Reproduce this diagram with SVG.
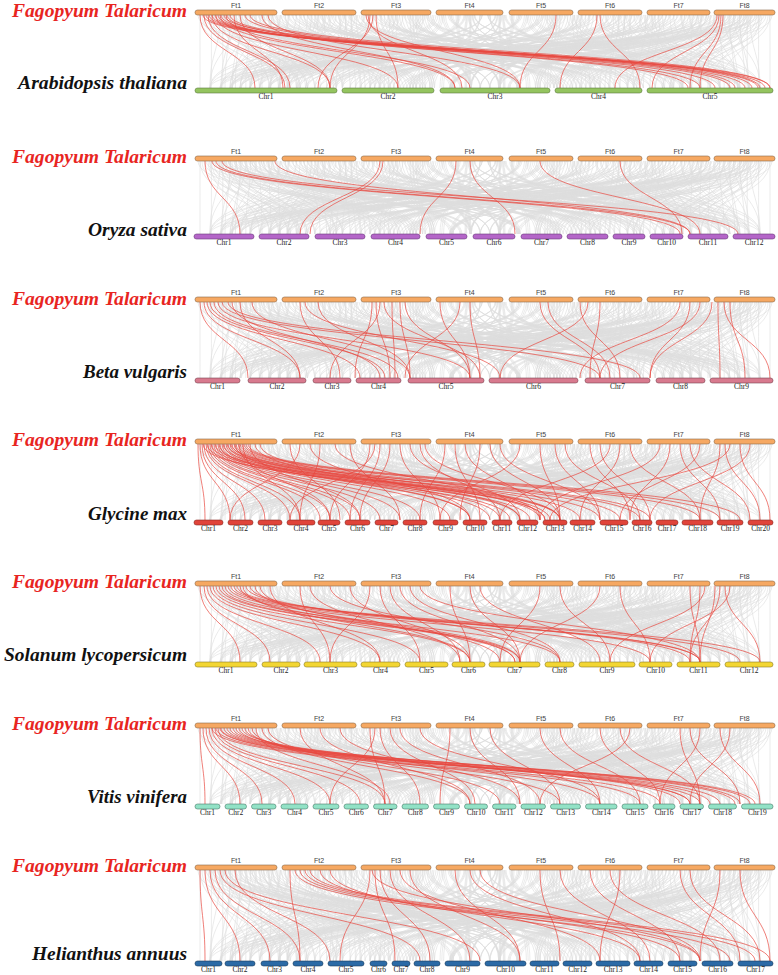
<svg xmlns="http://www.w3.org/2000/svg" xmlns:xlink="http://www.w3.org/1999/xlink" width="778" height="975" viewBox="0 0 778 975">
<style>
.g{fill:none;stroke:#dedede;stroke-width:.6;vector-effect:non-scaling-stroke}
.r{fill:none;stroke:#e8473f;stroke-width:.7;vector-effect:non-scaling-stroke}
rect{stroke-width:.6;rx:2.5;ry:2.5}
.ft{fill:#f6a862;stroke:#8a6a4a}
.ar{fill:#94c45f;stroke:#5d7a40}
.or{fill:#b466c8;stroke:#6a3a7a}
.be{fill:#d87a8e;stroke:#7a4450}
.gl{fill:#e0443a;stroke:#8a2a22}
.so{fill:#f3d633;stroke:#8a7a2a}
.vi{fill:#92e2c6;stroke:#4a7a6a}
.he{fill:#2b6aa6;stroke:#1a3a5a}
.fl{font-family:"Liberation Sans",Arial,sans-serif;font-size:7px;fill:#444;text-anchor:middle}
.cl{font-family:"Liberation Serif","Times New Roman",serif;font-size:7.5px;fill:#222;text-anchor:middle}
.sp{font-family:"Liberation Serif","Times New Roman",serif;font-size:18px;font-style:italic;font-weight:bold;fill:#111}
.fg{fill:#e8251f}
</style>
<defs>
<path id="grey" class="g" d="M198 0C198 50 420 50 420 100M202 0C202 50 300 50 300 100M206 0C206 50 610 50 610 100M210 0C210 50 250 50 250 100M214 0C214 50 700 50 700 100M218 0C218 50 520 50 520 100M224 0C224 50 380 50 380 100M230 0C230 50 760 50 760 100M236 0C236 50 210 50 210 100M242 0C242 50 470 50 470 100M250 0C250 50 330 50 330 100M258 0C258 50 640 50 640 100M266 0C266 50 560 50 560 100M272 0C272 50 230 50 230 100M285 0C285 50 450 50 450 100M292 0C292 50 720 50 720 100M300 0C300 50 280 50 280 100M308 0C308 50 600 50 600 100M315 0C315 50 390 50 390 100M322 0C322 50 520 50 520 100M330 0C330 50 210 50 210 100M338 0C338 50 680 50 680 100M345 0C345 50 360 50 360 100M352 0C352 50 480 50 480 100M365 0C365 50 250 50 250 100M372 0C372 50 740 50 740 100M380 0C380 50 430 50 430 100M388 0C388 50 560 50 560 100M396 0C396 50 300 50 300 100M404 0C404 50 650 50 650 100M412 0C412 50 500 50 500 100M420 0C420 50 220 50 220 100M428 0C428 50 600 50 600 100M440 0C440 50 350 50 350 100M448 0C448 50 700 50 700 100M456 0C456 50 470 50 470 100M464 0C464 50 280 50 280 100M472 0C472 50 580 50 580 100M480 0C480 50 410 50 410 100M488 0C488 50 760 50 760 100M496 0C496 50 240 50 240 100M504 0C504 50 530 50 530 100M512 0C512 50 640 50 640 100M520 0C520 50 330 50 330 100M528 0C528 50 450 50 450 100M536 0C536 50 720 50 720 100M544 0C544 50 260 50 260 100M552 0C552 50 600 50 600 100M560 0C560 50 390 50 390 100M568 0C568 50 500 50 500 100M582 0C582 50 680 50 680 100M590 0C590 50 300 50 300 100M598 0C598 50 540 50 540 100M606 0C606 50 760 50 760 100M614 0C614 50 420 50 420 100M622 0C622 50 220 50 220 100M630 0C630 50 620 50 620 100M638 0C638 50 480 50 480 100M650 0C650 50 350 50 350 100M658 0C658 50 700 50 700 100M666 0C666 50 560 50 560 100M674 0C674 50 270 50 270 100M682 0C682 50 450 50 450 100M690 0C690 50 740 50 740 100M698 0C698 50 380 50 380 100M706 0C706 50 600 50 600 100M718 0C718 50 510 50 510 100M726 0C726 50 230 50 230 100M734 0C734 50 670 50 670 100M742 0C742 50 400 50 400 100M750 0C750 50 760 50 760 100M758 0C758 50 320 50 320 100M766 0C766 50 560 50 560 100M770 0C770 50 700 50 700 100M200 0C200 50 200 50 200 100M260 0C260 50 262 50 262 100M340 0C340 50 330 50 330 100M410 0C410 50 420 50 420 100M500 0C500 50 505 50 505 100M580 0C580 50 590 50 590 100M660 0C660 50 650 50 650 100M740 0C740 50 745 50 745 100M226 0C226 50 290 50 290 100M254 0C254 50 400 50 400 100M318 0C318 50 240 50 240 100M392 0C392 50 470 50 470 100M468 0C468 50 540 50 540 100M548 0C548 50 470 50 470 100M626 0C626 50 700 50 700 100M702 0C702 50 640 50 640 100M762 0C762 50 690 50 690 100"/>
<g id="greyAll">
<use xlink:href="#grey"/>
<use xlink:href="#grey" transform="translate(970,0) scale(-1,1)"/>
<use xlink:href="#grey" transform="translate(38.8,0) scale(0.92,1)"/>
<use xlink:href="#grey" transform="translate(950.6,0) scale(-0.96,1)"/>
<use xlink:href="#grey" transform="translate(19.4,0) scale(0.96,1)"/>
<use xlink:href="#grey" transform="translate(931.2,0) scale(-0.92,1)"/>
</g>
</defs>

<g id="connectors">
<g transform="translate(0,15) scale(1,0.73)">
<use xlink:href="#greyAll"/>
<path class="r" d="M203 0C203 50 765 50 765 100M206 0C206 50 758 50 758 100M209 0C209 50 770 50 770 100M212 0C212 50 745 50 745 100M215 0C215 50 730 50 730 100M218 0C218 50 700 50 700 100M221 0C221 50 688 50 688 100M224 0C224 50 760 50 760 100M227 0C227 50 715 50 715 100M230 0C230 50 752 50 752 100M200 0C200 50 255 50 255 100M204 0C204 50 285 50 285 100M208 0C208 50 290 50 290 100M212 0C212 50 330 50 330 100M216 0C216 50 398 50 398 100M220 0C220 50 455 50 455 100M226 0C226 50 470 50 470 100M234 0C234 50 283 50 283 100M240 0C240 50 330 50 330 100M262 0C262 50 455 50 455 100M268 0C268 50 520 50 520 100M370 0C370 50 330 50 330 100M373 0C373 50 318 50 318 100M376 0C376 50 398 50 398 100M368 0C368 50 462 50 462 100M366 0C366 50 520 50 520 100M556 0C556 50 520 50 520 100M597 0C597 50 560 50 560 100M600 0C600 50 640 50 640 100M719 0C719 50 652 50 652 100M721 0C721 50 690 50 690 100M717 0C717 50 615 50 615 100M723 0C723 50 700 50 700 100M245 0C245 50 735 50 735 100M250 0C250 50 770 50 770 100"/>
</g>
<g transform="translate(0,161) scale(1,0.73)">
<use xlink:href="#greyAll"/>
<path class="r" d="M205 0C205 50 240 50 240 100M212 0C212 50 680 50 680 100M216 0C216 50 690 50 690 100M222 0C222 50 738 50 738 100M380 0C380 50 300 50 300 100M383 0C383 50 310 50 310 100M456 0C456 50 420 50 420 100M470 0C470 50 515 50 515 100M540 0C540 50 700 50 700 100M620 0C620 50 682 50 682 100M275 0C275 50 690 50 690 100"/>
</g>
<g transform="translate(0,302) scale(1,0.76)">
<use xlink:href="#greyAll"/>
<path class="r" d="M200 0C200 50 248 50 248 100M204 0C204 50 300 50 300 100M207 0C207 50 360 50 360 100M210 0C210 50 385 50 385 100M214 0C214 50 398 50 398 100M218 0C218 50 470 50 470 100M222 0C222 50 600 50 600 100M228 0C228 50 640 50 640 100M232 0C232 50 380 50 380 100M240 0C240 50 300 50 300 100M252 0C252 50 410 50 410 100M300 0C300 50 340 50 340 100M305 0C305 50 500 50 500 100M372 0C372 50 355 50 355 100M376 0C376 50 390 50 390 100M380 0C380 50 330 50 330 100M384 0C384 50 480 50 480 100M392 0C392 50 395 50 395 100M400 0C400 50 410 50 410 100M405 0C405 50 470 50 470 100M440 0C440 50 470 50 470 100M460 0C460 50 405 50 405 100M470 0C470 50 480 50 480 100M540 0C540 50 600 50 600 100M548 0C548 50 610 50 610 100M580 0C580 50 620 50 620 100M588 0C588 50 500 50 500 100M600 0C600 50 590 50 590 100M680 0C680 50 580 50 580 100M690 0C690 50 650 50 650 100M700 0C700 50 600 50 600 100M718 0C718 50 720 50 720 100M724 0C724 50 770 50 770 100M712 0C712 50 650 50 650 100M730 0C730 50 745 50 745 100M318 0C318 50 410 50 410 100"/>
</g>
<g transform="translate(0,444) scale(1,0.76)">
<use xlink:href="#greyAll"/>
<path class="r" d="M198 0C198 50 205 50 205 100M200 0C200 50 230 50 230 100M202 0C202 50 245 50 245 100M204 0C204 50 265 50 265 100M206 0C206 50 290 50 290 100M208 0C208 50 300 50 300 100M210 0C210 50 320 50 320 100M212 0C212 50 330 50 330 100M214 0C214 50 350 50 350 100M216 0C216 50 360 50 360 100M218 0C218 50 380 50 380 100M220 0C220 50 400 50 400 100M222 0C222 50 420 50 420 100M224 0C224 50 450 50 450 100M226 0C226 50 470 50 470 100M228 0C228 50 500 50 500 100M230 0C230 50 520 50 520 100M232 0C232 50 540 50 540 100M234 0C234 50 550 50 550 100M236 0C236 50 560 50 560 100M238 0C238 50 580 50 580 100M240 0C240 50 620 50 620 100M242 0C242 50 650 50 650 100M244 0C244 50 700 50 700 100M246 0C246 50 720 50 720 100M248 0C248 50 740 50 740 100M203 0C203 50 530 50 530 100M207 0C207 50 510 50 510 100M211 0C211 50 545 50 545 100M215 0C215 50 560 50 560 100M219 0C219 50 490 50 490 100M223 0C223 50 545 50 545 100M227 0C227 50 600 50 600 100M231 0C231 50 640 50 640 100M235 0C235 50 470 50 470 100M239 0C239 50 330 50 330 100M243 0C243 50 300 50 300 100M250 0C250 50 360 50 360 100M255 0C255 50 520 50 520 100M260 0C260 50 560 50 560 100M290 0C290 50 340 50 340 100M300 0C300 50 230 50 230 100M310 0C310 50 470 50 470 100M320 0C320 50 300 50 300 100M335 0C335 50 540 50 540 100M350 0C350 50 400 50 400 100M370 0C370 50 330 50 330 100M375 0C375 50 290 50 290 100M380 0C380 50 350 50 350 100M390 0C390 50 360 50 360 100M400 0C400 50 440 50 440 100M410 0C410 50 520 50 520 100M420 0C420 50 500 50 500 100M425 0C425 50 560 50 560 100M445 0C445 50 420 50 420 100M455 0C455 50 480 50 480 100M465 0C465 50 540 50 540 100M480 0C480 50 460 50 460 100M490 0C490 50 560 50 560 100M500 0C500 50 600 50 600 100M520 0C520 50 440 50 440 100M540 0C540 50 560 50 560 100M555 0C555 50 600 50 600 100M565 0C565 50 640 50 640 100M590 0C590 50 630 50 630 100M600 0C600 50 650 50 650 100M610 0C610 50 500 50 500 100M620 0C620 50 580 50 580 100M630 0C630 50 700 50 700 100M660 0C660 50 540 50 540 100M670 0C670 50 630 50 630 100M680 0C680 50 720 50 720 100M690 0C690 50 750 50 750 100M700 0C700 50 620 50 620 100M720 0C720 50 700 50 700 100M725 0C725 50 760 50 760 100M740 0C740 50 770 50 770 100M750 0C750 50 650 50 650 100M730 0C730 50 550 50 550 100"/>
</g>
<g transform="translate(0,586) scale(1,0.76)">
<use xlink:href="#greyAll"/>
<path class="r" d="M200 0C200 50 240 50 240 100M204 0C204 50 270 50 270 100M207 0C207 50 320 50 320 100M210 0C210 50 380 50 380 100M213 0C213 50 420 50 420 100M216 0C216 50 470 50 470 100M219 0C219 50 515 50 515 100M222 0C222 50 520 50 520 100M225 0C225 50 560 50 560 100M228 0C228 50 650 50 650 100M231 0C231 50 700 50 700 100M234 0C234 50 740 50 740 100M237 0C237 50 760 50 760 100M240 0C240 50 515 50 515 100M243 0C243 50 470 50 470 100M246 0C246 50 700 50 700 100M250 0C250 50 690 50 690 100M255 0C255 50 520 50 520 100M260 0C260 50 500 50 500 100M270 0C270 50 380 50 380 100M300 0C300 50 330 50 330 100M310 0C310 50 460 50 460 100M330 0C330 50 560 50 560 100M350 0C350 50 470 50 470 100M370 0C370 50 330 50 330 100M380 0C380 50 420 50 420 100M390 0C390 50 460 50 460 100M400 0C400 50 520 50 520 100M410 0C410 50 560 50 560 100M420 0C420 50 700 50 700 100M450 0C450 50 470 50 470 100M470 0C470 50 520 50 520 100M480 0C480 50 600 50 600 100M540 0C540 50 500 50 500 100M560 0C560 50 610 50 610 100M600 0C600 50 520 50 520 100M620 0C620 50 650 50 650 100M690 0C690 50 700 50 700 100M700 0C700 50 690 50 690 100M705 0C705 50 610 50 610 100M715 0C715 50 700 50 700 100M720 0C720 50 690 50 690 100M725 0C725 50 760 50 760 100M730 0C730 50 650 50 650 100"/>
</g>
<g transform="translate(0,728) scale(1,0.76)">
<use xlink:href="#greyAll"/>
<path class="r" d="M200 0C200 50 205 50 205 100M203 0C203 50 240 50 240 100M206 0C206 50 262 50 262 100M209 0C209 50 295 50 295 100M212 0C212 50 330 50 330 100M215 0C215 50 360 50 360 100M218 0C218 50 385 50 385 100M221 0C221 50 700 50 700 100M224 0C224 50 710 50 710 100M227 0C227 50 720 50 720 100M230 0C230 50 735 50 735 100M233 0C233 50 750 50 750 100M236 0C236 50 755 50 755 100M239 0C239 50 690 50 690 100M242 0C242 50 740 50 740 100M245 0C245 50 680 50 680 100M248 0C248 50 600 50 600 100M252 0C252 50 560 50 560 100M256 0C256 50 390 50 390 100M262 0C262 50 470 50 470 100M268 0C268 50 500 50 500 100M212 0C212 50 640 50 640 100M216 0C216 50 660 50 660 100M220 0C220 50 690 50 690 100M300 0C300 50 385 50 385 100M320 0C320 50 470 50 470 100M340 0C340 50 520 50 520 100M370 0C370 50 385 50 385 100M375 0C375 50 330 50 330 100M380 0C380 50 420 50 420 100M390 0C390 50 475 50 475 100M400 0C400 50 540 50 540 100M420 0C420 50 600 50 600 100M450 0C450 50 440 50 440 100M470 0C470 50 520 50 520 100M490 0C490 50 560 50 560 100M540 0C540 50 600 50 600 100M560 0C560 50 640 50 640 100M600 0C600 50 660 50 660 100M620 0C620 50 700 50 700 100M630 0C630 50 540 50 540 100M680 0C680 50 700 50 700 100M690 0C690 50 740 50 740 100M700 0C700 50 660 50 660 100M720 0C720 50 760 50 760 100M730 0C730 50 690 50 690 100"/>
</g>
<g transform="translate(0,870) scale(1,0.91)">
<use xlink:href="#greyAll"/>
<path class="r" d="M200 0C200 50 205 50 205 100M205 0C205 50 240 50 240 100M210 0C210 50 270 50 270 100M215 0C215 50 300 50 300 100M220 0C220 50 420 50 420 100M225 0C225 50 480 50 480 100M235 0C235 50 330 50 330 100M295 0C295 50 700 50 700 100M300 0C300 50 730 50 730 100M305 0C305 50 755 50 755 100M310 0C310 50 770 50 770 100M320 0C320 50 680 50 680 100M330 0C330 50 640 50 640 100M290 0C290 50 300 50 300 100M370 0C370 50 340 50 340 100M375 0C375 50 395 50 395 100M380 0C380 50 430 50 430 100M390 0C390 50 470 50 470 100M400 0C400 50 600 50 600 100M410 0C410 50 520 50 520 100M372 0C372 50 700 50 700 100M455 0C455 50 520 50 520 100M470 0C470 50 640 50 640 100M480 0C480 50 700 50 700 100M540 0C540 50 560 50 560 100M560 0C560 50 650 50 650 100M590 0C590 50 680 50 680 100M610 0C610 50 720 50 720 100M620 0C620 50 600 50 600 100M680 0C680 50 740 50 740 100M690 0C690 50 760 50 760 100M720 0C720 50 700 50 700 100M740 0C740 50 770 50 770 100"/>
</g>
</g>

<g id="labels">
<text class="sp fg" x="12" y="17" textLength="175" lengthAdjust="spacingAndGlyphs">Fagopyum Talaricum</text>
<text class="sp" x="18" y="89" textLength="169" lengthAdjust="spacingAndGlyphs">Arabidopsis thaliana</text>
<text class="sp fg" x="12" y="163" textLength="175" lengthAdjust="spacingAndGlyphs">Fagopyum Talaricum</text>
<text class="sp" x="88" y="236" textLength="99" lengthAdjust="spacingAndGlyphs">Oryza sativa</text>
<text class="sp fg" x="12" y="305" textLength="175" lengthAdjust="spacingAndGlyphs">Fagopyum Talaricum</text>
<text class="sp" x="83" y="378" textLength="104" lengthAdjust="spacingAndGlyphs">Beta vulgaris</text>
<text class="sp fg" x="12" y="446" textLength="175" lengthAdjust="spacingAndGlyphs">Fagopyum Talaricum</text>
<text class="sp" x="88" y="520" textLength="99" lengthAdjust="spacingAndGlyphs">Glycine max</text>
<text class="sp fg" x="12" y="588" textLength="175" lengthAdjust="spacingAndGlyphs">Fagopyum Talaricum</text>
<text class="sp" x="4" y="661" textLength="183" lengthAdjust="spacingAndGlyphs">Solanum lycopersicum</text>
<text class="sp fg" x="12" y="730" textLength="175" lengthAdjust="spacingAndGlyphs">Fagopyum Talaricum</text>
<text class="sp" x="87" y="803" textLength="100" lengthAdjust="spacingAndGlyphs">Vitis vinifera</text>
<text class="sp fg" x="12" y="872" textLength="175" lengthAdjust="spacingAndGlyphs">Fagopyum Talaricum</text>
<text class="sp" x="32" y="960" textLength="155" lengthAdjust="spacingAndGlyphs">Helianthus annuus</text>
</g>

<g id="p1-Ft1"><rect class="ft" x="195" y="10" width="82" height="5"/><text class="fl" x="236" y="8">Ft1</text></g>
<g id="p1-Ft2"><rect class="ft" x="282" y="10" width="74" height="5"/><text class="fl" x="319" y="8">Ft2</text></g>
<g id="p1-Ft3"><rect class="ft" x="361" y="10" width="70" height="5"/><text class="fl" x="396" y="8">Ft3</text></g>
<g id="p1-Ft4"><rect class="ft" x="436" y="10" width="67" height="5"/><text class="fl" x="469.5" y="8">Ft4</text></g>
<g id="p1-Ft5"><rect class="ft" x="509" y="10" width="64" height="5"/><text class="fl" x="541" y="8">Ft5</text></g>
<g id="p1-Ft6"><rect class="ft" x="578" y="10" width="64" height="5"/><text class="fl" x="610" y="8">Ft6</text></g>
<g id="p1-Ft7"><rect class="ft" x="647" y="10" width="63" height="5"/><text class="fl" x="678.5" y="8">Ft7</text></g>
<g id="p1-Ft8"><rect class="ft" x="714" y="10" width="61" height="5"/><text class="fl" x="744.5" y="8">Ft8</text></g>
<g id="at-Chr1"><rect class="ar" x="195" y="88" width="142" height="5"/><text class="cl" x="266" y="99">Chr1</text></g>
<g id="at-Chr2"><rect class="ar" x="342" y="88" width="92" height="5"/><text class="cl" x="388" y="99">Chr2</text></g>
<g id="at-Chr3"><rect class="ar" x="440" y="88" width="110" height="5"/><text class="cl" x="495" y="99">Chr3</text></g>
<g id="at-Chr4"><rect class="ar" x="555" y="88" width="87" height="5"/><text class="cl" x="598.5" y="99">Chr4</text></g>
<g id="at-Chr5"><rect class="ar" x="647" y="88" width="126" height="5"/><text class="cl" x="710" y="99">Chr5</text></g>

<g id="p2-Ft1"><rect class="ft" x="195" y="156" width="82" height="5"/><text class="fl" x="236" y="154">Ft1</text></g>
<g id="p2-Ft2"><rect class="ft" x="282" y="156" width="74" height="5"/><text class="fl" x="319" y="154">Ft2</text></g>
<g id="p2-Ft3"><rect class="ft" x="361" y="156" width="70" height="5"/><text class="fl" x="396" y="154">Ft3</text></g>
<g id="p2-Ft4"><rect class="ft" x="436" y="156" width="67" height="5"/><text class="fl" x="469.5" y="154">Ft4</text></g>
<g id="p2-Ft5"><rect class="ft" x="509" y="156" width="64" height="5"/><text class="fl" x="541" y="154">Ft5</text></g>
<g id="p2-Ft6"><rect class="ft" x="578" y="156" width="64" height="5"/><text class="fl" x="610" y="154">Ft6</text></g>
<g id="p2-Ft7"><rect class="ft" x="647" y="156" width="63" height="5"/><text class="fl" x="678.5" y="154">Ft7</text></g>
<g id="p2-Ft8"><rect class="ft" x="714" y="156" width="61" height="5"/><text class="fl" x="744.5" y="154">Ft8</text></g>
<g id="os-Chr1"><rect class="or" x="194" y="234" width="60" height="5"/><text class="cl" x="224" y="245">Chr1</text></g>
<g id="os-Chr2"><rect class="or" x="259" y="234" width="50" height="5"/><text class="cl" x="284" y="245">Chr2</text></g>
<g id="os-Chr3"><rect class="or" x="315" y="234" width="50" height="5"/><text class="cl" x="340" y="245">Chr3</text></g>
<g id="os-Chr4"><rect class="or" x="371" y="234" width="49" height="5"/><text class="cl" x="395.5" y="245">Chr4</text></g>
<g id="os-Chr5"><rect class="or" x="426" y="234" width="41" height="5"/><text class="cl" x="446.5" y="245">Chr5</text></g>
<g id="os-Chr6"><rect class="or" x="473" y="234" width="42" height="5"/><text class="cl" x="494" y="245">Chr6</text></g>
<g id="os-Chr7"><rect class="or" x="521" y="234" width="41" height="5"/><text class="cl" x="541.5" y="245">Chr7</text></g>
<g id="os-Chr8"><rect class="or" x="567" y="234" width="41" height="5"/><text class="cl" x="587.5" y="245">Chr8</text></g>
<g id="os-Chr9"><rect class="or" x="613" y="234" width="32" height="5"/><text class="cl" x="629" y="245">Chr9</text></g>
<g id="os-Chr10"><rect class="or" x="650" y="234" width="33" height="5"/><text class="cl" x="666.5" y="245">Chr10</text></g>
<g id="os-Chr11"><rect class="or" x="688" y="234" width="40" height="5"/><text class="cl" x="708" y="245">Chr11</text></g>
<g id="os-Chr12"><rect class="or" x="733" y="234" width="42" height="5"/><text class="cl" x="754" y="245">Chr12</text></g>

<g id="p3-Ft1"><rect class="ft" x="195" y="297" width="82" height="5"/><text class="fl" x="236" y="295">Ft1</text></g>
<g id="p3-Ft2"><rect class="ft" x="282" y="297" width="74" height="5"/><text class="fl" x="319" y="295">Ft2</text></g>
<g id="p3-Ft3"><rect class="ft" x="361" y="297" width="70" height="5"/><text class="fl" x="396" y="295">Ft3</text></g>
<g id="p3-Ft4"><rect class="ft" x="436" y="297" width="67" height="5"/><text class="fl" x="469.5" y="295">Ft4</text></g>
<g id="p3-Ft5"><rect class="ft" x="509" y="297" width="64" height="5"/><text class="fl" x="541" y="295">Ft5</text></g>
<g id="p3-Ft6"><rect class="ft" x="578" y="297" width="64" height="5"/><text class="fl" x="610" y="295">Ft6</text></g>
<g id="p3-Ft7"><rect class="ft" x="647" y="297" width="63" height="5"/><text class="fl" x="678.5" y="295">Ft7</text></g>
<g id="p3-Ft8"><rect class="ft" x="714" y="297" width="61" height="5"/><text class="fl" x="744.5" y="295">Ft8</text></g>
<g id="bv-Chr1"><rect class="be" x="195" y="378" width="45" height="5"/><text class="cl" x="217.5" y="389">Chr1</text></g>
<g id="bv-Chr2"><rect class="be" x="248" y="378" width="58" height="5"/><text class="cl" x="277" y="389">Chr2</text></g>
<g id="bv-Chr3"><rect class="be" x="313" y="378" width="38" height="5"/><text class="cl" x="332" y="389">Chr3</text></g>
<g id="bv-Chr4"><rect class="be" x="356" y="378" width="45" height="5"/><text class="cl" x="378.5" y="389">Chr4</text></g>
<g id="bv-Chr5"><rect class="be" x="408" y="378" width="76" height="5"/><text class="cl" x="446" y="389">Chr5</text></g>
<g id="bv-Chr6"><rect class="be" x="489" y="378" width="89" height="5"/><text class="cl" x="533.5" y="389">Chr6</text></g>
<g id="bv-Chr7"><rect class="be" x="585" y="378" width="65" height="5"/><text class="cl" x="617.5" y="389">Chr7</text></g>
<g id="bv-Chr8"><rect class="be" x="656" y="378" width="49" height="5"/><text class="cl" x="680.5" y="389">Chr8</text></g>
<g id="bv-Chr9"><rect class="be" x="710" y="378" width="63" height="5"/><text class="cl" x="741.5" y="389">Chr9</text></g>

<g id="p4-Ft1"><rect class="ft" x="195" y="439" width="82" height="5"/><text class="fl" x="236" y="437">Ft1</text></g>
<g id="p4-Ft2"><rect class="ft" x="282" y="439" width="74" height="5"/><text class="fl" x="319" y="437">Ft2</text></g>
<g id="p4-Ft3"><rect class="ft" x="361" y="439" width="70" height="5"/><text class="fl" x="396" y="437">Ft3</text></g>
<g id="p4-Ft4"><rect class="ft" x="436" y="439" width="67" height="5"/><text class="fl" x="469.5" y="437">Ft4</text></g>
<g id="p4-Ft5"><rect class="ft" x="509" y="439" width="64" height="5"/><text class="fl" x="541" y="437">Ft5</text></g>
<g id="p4-Ft6"><rect class="ft" x="578" y="439" width="64" height="5"/><text class="fl" x="610" y="437">Ft6</text></g>
<g id="p4-Ft7"><rect class="ft" x="647" y="439" width="63" height="5"/><text class="fl" x="678.5" y="437">Ft7</text></g>
<g id="p4-Ft8"><rect class="ft" x="714" y="439" width="61" height="5"/><text class="fl" x="744.5" y="437">Ft8</text></g>
<g id="gm-Chr1"><rect class="gl" x="194" y="520" width="29" height="5"/><text class="cl" x="208.5" y="531">Chr1</text></g>
<g id="gm-Chr2"><rect class="gl" x="228" y="520" width="25" height="5"/><text class="cl" x="240.5" y="531">Chr2</text></g>
<g id="gm-Chr3"><rect class="gl" x="258" y="520" width="24" height="5"/><text class="cl" x="270" y="531">Chr3</text></g>
<g id="gm-Chr4"><rect class="gl" x="287" y="520" width="28" height="5"/><text class="cl" x="301" y="531">Chr4</text></g>
<g id="gm-Chr5"><rect class="gl" x="318" y="520" width="22" height="5"/><text class="cl" x="329" y="531">Chr5</text></g>
<g id="gm-Chr6"><rect class="gl" x="345" y="520" width="25" height="5"/><text class="cl" x="357.5" y="531">Chr6</text></g>
<g id="gm-Chr7"><rect class="gl" x="375" y="520" width="23" height="5"/><text class="cl" x="386.5" y="531">Chr7</text></g>
<g id="gm-Chr8"><rect class="gl" x="403" y="520" width="24" height="5"/><text class="cl" x="415" y="531">Chr8</text></g>
<g id="gm-Chr9"><rect class="gl" x="433" y="520" width="25" height="5"/><text class="cl" x="445.5" y="531">Chr9</text></g>
<g id="gm-Chr10"><rect class="gl" x="463" y="520" width="24" height="5"/><text class="cl" x="475" y="531">Chr10</text></g>
<g id="gm-Chr11"><rect class="gl" x="492" y="520" width="20" height="5"/><text class="cl" x="502" y="531">Chr11</text></g>
<g id="gm-Chr12"><rect class="gl" x="517" y="520" width="21" height="5"/><text class="cl" x="527.5" y="531">Chr12</text></g>
<g id="gm-Chr13"><rect class="gl" x="543" y="520" width="24" height="5"/><text class="cl" x="555" y="531">Chr13</text></g>
<g id="gm-Chr14"><rect class="gl" x="570" y="520" width="25" height="5"/><text class="cl" x="582.5" y="531">Chr14</text></g>
<g id="gm-Chr15"><rect class="gl" x="600" y="520" width="28" height="5"/><text class="cl" x="614" y="531">Chr15</text></g>
<g id="gm-Chr16"><rect class="gl" x="632" y="520" width="20" height="5"/><text class="cl" x="642" y="531">Chr16</text></g>
<g id="gm-Chr17"><rect class="gl" x="656" y="520" width="22" height="5"/><text class="cl" x="667" y="531">Chr17</text></g>
<g id="gm-Chr18"><rect class="gl" x="682" y="520" width="31" height="5"/><text class="cl" x="697.5" y="531">Chr18</text></g>
<g id="gm-Chr19"><rect class="gl" x="717" y="520" width="26" height="5"/><text class="cl" x="730" y="531">Chr19</text></g>
<g id="gm-Chr20"><rect class="gl" x="748" y="520" width="25" height="5"/><text class="cl" x="760.5" y="531">Chr20</text></g>

<g id="p5-Ft1"><rect class="ft" x="195" y="581" width="82" height="5"/><text class="fl" x="236" y="579">Ft1</text></g>
<g id="p5-Ft2"><rect class="ft" x="282" y="581" width="74" height="5"/><text class="fl" x="319" y="579">Ft2</text></g>
<g id="p5-Ft3"><rect class="ft" x="361" y="581" width="70" height="5"/><text class="fl" x="396" y="579">Ft3</text></g>
<g id="p5-Ft4"><rect class="ft" x="436" y="581" width="67" height="5"/><text class="fl" x="469.5" y="579">Ft4</text></g>
<g id="p5-Ft5"><rect class="ft" x="509" y="581" width="64" height="5"/><text class="fl" x="541" y="579">Ft5</text></g>
<g id="p5-Ft6"><rect class="ft" x="578" y="581" width="64" height="5"/><text class="fl" x="610" y="579">Ft6</text></g>
<g id="p5-Ft7"><rect class="ft" x="647" y="581" width="63" height="5"/><text class="fl" x="678.5" y="579">Ft7</text></g>
<g id="p5-Ft8"><rect class="ft" x="714" y="581" width="61" height="5"/><text class="fl" x="744.5" y="579">Ft8</text></g>
<g id="sl-Chr1"><rect class="so" x="195" y="662" width="62" height="5"/><text class="cl" x="226" y="673">Chr1</text></g>
<g id="sl-Chr2"><rect class="so" x="262" y="662" width="38" height="5"/><text class="cl" x="281" y="673">Chr2</text></g>
<g id="sl-Chr3"><rect class="so" x="304" y="662" width="53" height="5"/><text class="cl" x="330.5" y="673">Chr3</text></g>
<g id="sl-Chr4"><rect class="so" x="361" y="662" width="39" height="5"/><text class="cl" x="380.5" y="673">Chr4</text></g>
<g id="sl-Chr5"><rect class="so" x="405" y="662" width="43" height="5"/><text class="cl" x="426.5" y="673">Chr5</text></g>
<g id="sl-Chr6"><rect class="so" x="452" y="662" width="33" height="5"/><text class="cl" x="468.5" y="673">Chr6</text></g>
<g id="sl-Chr7"><rect class="so" x="489" y="662" width="51" height="5"/><text class="cl" x="514.5" y="673">Chr7</text></g>
<g id="sl-Chr8"><rect class="so" x="545" y="662" width="29" height="5"/><text class="cl" x="559.5" y="673">Chr8</text></g>
<g id="sl-Chr9"><rect class="so" x="579" y="662" width="56" height="5"/><text class="cl" x="607" y="673">Chr9</text></g>
<g id="sl-Chr10"><rect class="so" x="639" y="662" width="33" height="5"/><text class="cl" x="655.5" y="673">Chr10</text></g>
<g id="sl-Chr11"><rect class="so" x="677" y="662" width="43" height="5"/><text class="cl" x="698.5" y="673">Chr11</text></g>
<g id="sl-Chr12"><rect class="so" x="725" y="662" width="48" height="5"/><text class="cl" x="749" y="673">Chr12</text></g>

<g id="p6-Ft1"><rect class="ft" x="195" y="723" width="82" height="5"/><text class="fl" x="236" y="721">Ft1</text></g>
<g id="p6-Ft2"><rect class="ft" x="282" y="723" width="74" height="5"/><text class="fl" x="319" y="721">Ft2</text></g>
<g id="p6-Ft3"><rect class="ft" x="361" y="723" width="70" height="5"/><text class="fl" x="396" y="721">Ft3</text></g>
<g id="p6-Ft4"><rect class="ft" x="436" y="723" width="67" height="5"/><text class="fl" x="469.5" y="721">Ft4</text></g>
<g id="p6-Ft5"><rect class="ft" x="509" y="723" width="64" height="5"/><text class="fl" x="541" y="721">Ft5</text></g>
<g id="p6-Ft6"><rect class="ft" x="578" y="723" width="64" height="5"/><text class="fl" x="610" y="721">Ft6</text></g>
<g id="p6-Ft7"><rect class="ft" x="647" y="723" width="63" height="5"/><text class="fl" x="678.5" y="721">Ft7</text></g>
<g id="p6-Ft8"><rect class="ft" x="714" y="723" width="61" height="5"/><text class="fl" x="744.5" y="721">Ft8</text></g>
<g id="vv-Chr1"><rect class="vi" x="195" y="804" width="25" height="5"/><text class="cl" x="207.5" y="815">Chr1</text></g>
<g id="vv-Chr2"><rect class="vi" x="225" y="804" width="21.5" height="5"/><text class="cl" x="235.8" y="815">Chr2</text></g>
<g id="vv-Chr3"><rect class="vi" x="251.5" y="804" width="24.5" height="5"/><text class="cl" x="263.8" y="815">Chr3</text></g>
<g id="vv-Chr4"><rect class="vi" x="281" y="804" width="27" height="5"/><text class="cl" x="294.5" y="815">Chr4</text></g>
<g id="vv-Chr5"><rect class="vi" x="313" y="804" width="26" height="5"/><text class="cl" x="326" y="815">Chr5</text></g>
<g id="vv-Chr6"><rect class="vi" x="344" y="804" width="24.5" height="5"/><text class="cl" x="356.3" y="815">Chr6</text></g>
<g id="vv-Chr7"><rect class="vi" x="373.5" y="804" width="23.5" height="5"/><text class="cl" x="385.3" y="815">Chr7</text></g>
<g id="vv-Chr8"><rect class="vi" x="402" y="804" width="26.5" height="5"/><text class="cl" x="415.3" y="815">Chr8</text></g>
<g id="vv-Chr9"><rect class="vi" x="433.5" y="804" width="26" height="5"/><text class="cl" x="446.5" y="815">Chr9</text></g>
<g id="vv-Chr10"><rect class="vi" x="464.5" y="804" width="23" height="5"/><text class="cl" x="476" y="815">Chr10</text></g>
<g id="vv-Chr11"><rect class="vi" x="492.5" y="804" width="23.5" height="5"/><text class="cl" x="504.3" y="815">Chr11</text></g>
<g id="vv-Chr12"><rect class="vi" x="521" y="804" width="24.5" height="5"/><text class="cl" x="533.3" y="815">Chr12</text></g>
<g id="vv-Chr13"><rect class="vi" x="550.5" y="804" width="30" height="5"/><text class="cl" x="565.5" y="815">Chr13</text></g>
<g id="vv-Chr14"><rect class="vi" x="585.5" y="804" width="31.5" height="5"/><text class="cl" x="601.3" y="815">Chr14</text></g>
<g id="vv-Chr15"><rect class="vi" x="622" y="804" width="26" height="5"/><text class="cl" x="635" y="815">Chr15</text></g>
<g id="vv-Chr16"><rect class="vi" x="653" y="804" width="22" height="5"/><text class="cl" x="664" y="815">Chr16</text></g>
<g id="vv-Chr17"><rect class="vi" x="680" y="804" width="23.5" height="5"/><text class="cl" x="691.8" y="815">Chr17</text></g>
<g id="vv-Chr18"><rect class="vi" x="708.5" y="804" width="28" height="5"/><text class="cl" x="722.5" y="815">Chr18</text></g>
<g id="vv-Chr19"><rect class="vi" x="741.5" y="804" width="31.5" height="5"/><text class="cl" x="757.3" y="815">Chr19</text></g>

<g id="p7-Ft1"><rect class="ft" x="195" y="865" width="82" height="5"/><text class="fl" x="236" y="863">Ft1</text></g>
<g id="p7-Ft2"><rect class="ft" x="282" y="865" width="74" height="5"/><text class="fl" x="319" y="863">Ft2</text></g>
<g id="p7-Ft3"><rect class="ft" x="361" y="865" width="70" height="5"/><text class="fl" x="396" y="863">Ft3</text></g>
<g id="p7-Ft4"><rect class="ft" x="436" y="865" width="67" height="5"/><text class="fl" x="469.5" y="863">Ft4</text></g>
<g id="p7-Ft5"><rect class="ft" x="509" y="865" width="64" height="5"/><text class="fl" x="541" y="863">Ft5</text></g>
<g id="p7-Ft6"><rect class="ft" x="578" y="865" width="64" height="5"/><text class="fl" x="610" y="863">Ft6</text></g>
<g id="p7-Ft7"><rect class="ft" x="647" y="865" width="63" height="5"/><text class="fl" x="678.5" y="863">Ft7</text></g>
<g id="p7-Ft8"><rect class="ft" x="714" y="865" width="61" height="5"/><text class="fl" x="744.5" y="863">Ft8</text></g>
<g id="ha-Chr1"><rect class="he" x="195" y="961" width="27" height="5"/><text class="cl" x="208.5" y="972">Chr1</text></g>
<g id="ha-Chr2"><rect class="he" x="225" y="961" width="30" height="5"/><text class="cl" x="240" y="972">Chr2</text></g>
<g id="ha-Chr3"><rect class="he" x="261" y="961" width="27" height="5"/><text class="cl" x="274.5" y="972">Chr3</text></g>
<g id="ha-Chr4"><rect class="he" x="293" y="961" width="30" height="5"/><text class="cl" x="308" y="972">Chr4</text></g>
<g id="ha-Chr5"><rect class="he" x="328" y="961" width="36" height="5"/><text class="cl" x="346" y="972">Chr5</text></g>
<g id="ha-Chr6"><rect class="he" x="370" y="961" width="17" height="5"/><text class="cl" x="378.5" y="972">Chr6</text></g>
<g id="ha-Chr7"><rect class="he" x="392" y="961" width="18" height="5"/><text class="cl" x="401" y="972">Chr7</text></g>
<g id="ha-Chr8"><rect class="he" x="414" y="961" width="26" height="5"/><text class="cl" x="427" y="972">Chr8</text></g>
<g id="ha-Chr9"><rect class="he" x="445" y="961" width="35" height="5"/><text class="cl" x="462.5" y="972">Chr9</text></g>
<g id="ha-Chr10"><rect class="he" x="485" y="961" width="41" height="5"/><text class="cl" x="505.5" y="972">Chr10</text></g>
<g id="ha-Chr11"><rect class="he" x="530" y="961" width="29" height="5"/><text class="cl" x="544.5" y="972">Chr11</text></g>
<g id="ha-Chr12"><rect class="he" x="563" y="961" width="29" height="5"/><text class="cl" x="577.5" y="972">Chr12</text></g>
<g id="ha-Chr13"><rect class="he" x="596" y="961" width="34" height="5"/><text class="cl" x="613" y="972">Chr13</text></g>
<g id="ha-Chr14"><rect class="he" x="634" y="961" width="29" height="5"/><text class="cl" x="648.5" y="972">Chr14</text></g>
<g id="ha-Chr15"><rect class="he" x="668" y="961" width="29" height="5"/><text class="cl" x="682.5" y="972">Chr15</text></g>
<g id="ha-Chr16"><rect class="he" x="702" y="961" width="31" height="5"/><text class="cl" x="717.5" y="972">Chr16</text></g>
<g id="ha-Chr17"><rect class="he" x="738" y="961" width="35" height="5"/><text class="cl" x="755.5" y="972">Chr17</text></g>
</svg>
